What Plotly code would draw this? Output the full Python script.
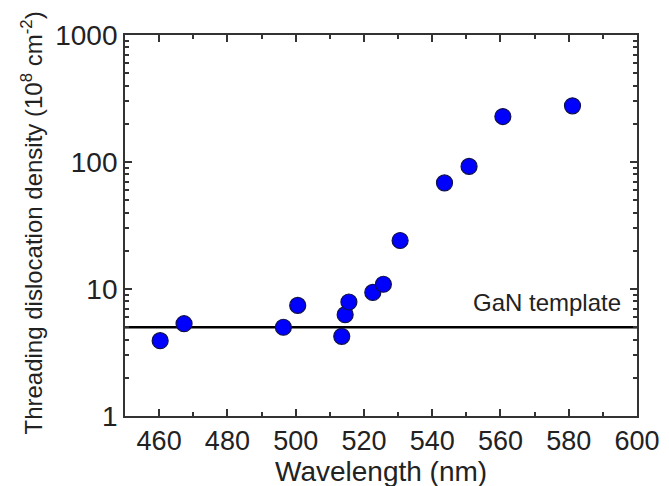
import plotly.graph_objects as go

wavelength = [460.3, 467.3, 496.4, 500.6, 513.5, 514.5, 515.6, 522.6, 525.7, 530.6, 543.6, 550.8, 560.7, 581.1]
density = [3.92, 5.33, 5.0, 7.43, 4.24, 6.28, 7.9, 9.4, 10.9, 24.1, 68.4, 92.3, 228, 277]
template_x = [450, 600]
template_y = [5, 5]
x_ticks = [460, 480, 500, 520, 540, 560, 580, 600]
y_ticks = [1, 10, 100, 1000]
y_minor = [k * 10 ** d for d in range(0, 3) for k in range(2, 10)]

FONT = "Arial, Liberation Sans, sans-serif"
fig = go.Figure()
fig.add_trace(go.Scatter(x=template_x, y=template_y, mode="lines",
                         line=dict(color="black", width=2.5), showlegend=False))
fig.add_trace(go.Scatter(x=wavelength, y=density, mode="markers",
                         marker=dict(size=16, color="#0000FF", line=dict(color="#10104a", width=1.2)),
                         showlegend=False))

# page body has an 8px default margin, so the figure is sized to fit 669x486
fig.update_layout(
    width=661, height=478,
    margin=dict(l=117, r=32, t=27, b=70),
    paper_bgcolor="white", plot_bgcolor="white",
    font=dict(family=FONT, color="#222", size=28),
    xaxis=dict(range=[450, 600], tickvals=x_ticks, ticks="inside", ticklen=7, tickwidth=1.5,
               tickcolor="#333", showline=True, linecolor="#333", linewidth=1.8, mirror="ticks",
               showgrid=False, zeroline=False, tickfont=dict(size=27), automargin=False,
               minor=dict(dtick=10, ticks="inside", ticklen=4, tickcolor="#333", showgrid=False)),
    yaxis=dict(type="log", range=[0, 3], tickvals=y_ticks, ticktext=[str(v) for v in y_ticks],
               ticks="inside", ticklen=7, tickwidth=1.5, tickcolor="#333",
               showline=True, linecolor="#333", linewidth=1.8, mirror="ticks",
               showgrid=False, zeroline=False, tickfont=dict(size=28), automargin=False,
               minor=dict(tickvals=y_minor, ticks="inside", ticklen=4, tickcolor="#333", showgrid=False)),
    annotations=[
        dict(text="Wavelength (nm)", xref="paper", yref="paper", x=0.5, y=0,
             xanchor="center", yanchor="top", yshift=-38, showarrow=False,
             font=dict(size=28, family=FONT, color="#222")),
        dict(text="Threading dislocation density (10<sup>8</sup> cm<sup>-2</sup>)",
             xref="paper", yref="paper", x=0, y=0.5, xanchor="center", yanchor="middle",
             xshift=-94, yshift=2, textangle=-90, showarrow=False,
             font=dict(size=24, family=FONT, color="#222")),
        dict(text="GaN template", xref="x", yref="y", x=596, y=0.89,
             xanchor="right", yanchor="middle", showarrow=False,
             font=dict(size=24, family=FONT, color="#222")),
    ],
)
fig.write_html("out.html")
